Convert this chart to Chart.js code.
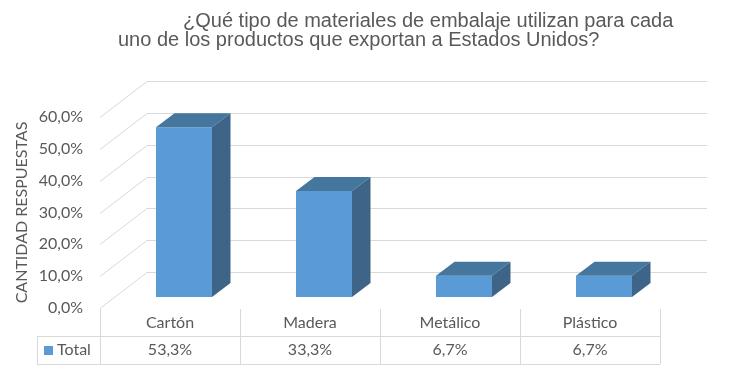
<!DOCTYPE html>
<html>
<head>
<meta charset="utf-8">
<script src="https://cdn.jsdelivr.net/npm/chart.js@4/dist/chart.umd.min.js"></script>
<style>
  html, body { margin: 0; padding: 0; background: #fff; }
  #wrap { width: 736px; height: 372px; position: relative; }
</style>
</head>
<body>
<div id="wrap"><canvas id="grafico"></canvas></div>
<script>
const titulo = ["¿Qué tipo de materiales de embalaje utilizan para cada", "uno de los productos que exportan a Estados Unidos?"];
const categorias = ["Cartón", "Madera", "Metálico", "Plástico"];
const valores = [53.3, 33.3, 6.7, 6.7];
const nombreSerie = "Total";
const tituloEje = "CANTIDAD RESPUESTAS";
const ejeMax = 60;
const ejePaso = 10;

const GRIS = "#595959";
const LINEA = "#d9d9d9";

// profundidad 3D (pared del fondo y posicion de las barras)
const FONDO_X = 47, FONDO_Y = -36;
const BARRA_X = 14, BARRA_Y = -11;
const PROF_X = 18.5, PROF_Y = -14;

function porcentaje(v) {
    return v.toFixed(1).replace(".", ",") + "%";
}

const paredes = {
    id: "paredes",
    beforeDatasetsDraw(chart) {
        const ctx = chart.ctx;
        const x = chart.scales.x, y = chart.scales.y;
        ctx.save();
        ctx.strokeStyle = LINEA;
        ctx.lineWidth = 1;
        y.ticks.forEach(t => {
            const py = Math.round(y.getPixelForValue(t.value)) + 0.5;
            ctx.beginPath();
            ctx.moveTo(x.left, py);
            ctx.lineTo(x.left + FONDO_X, py + FONDO_Y);
            ctx.lineTo(x.right + FONDO_X, py + FONDO_Y);
            ctx.stroke();
        });
        ctx.restore();
        // las caras frontales se dibujan desplazadas hacia el fondo
        ctx.save();
        ctx.translate(BARRA_X, BARRA_Y);
    },
    afterDatasetsDraw(chart) {
        const ctx = chart.ctx;
        ctx.restore();
        const meta = chart.getDatasetMeta(0);
        ctx.save();
        meta.data.forEach(bar => {
            const p = bar.getProps(["x", "y", "base", "width"], true);
            const L = p.x - p.width / 2 + BARRA_X;
            const R = p.x + p.width / 2 + BARRA_X;
            const T = p.y + BARRA_Y;
            const B = p.base + BARRA_Y;
            // cara superior
            ctx.fillStyle = "#45769e";
            ctx.beginPath();
            ctx.moveTo(L, T);
            ctx.lineTo(R, T);
            ctx.lineTo(R + PROF_X, T + PROF_Y);
            ctx.lineTo(L + PROF_X, T + PROF_Y);
            ctx.closePath();
            ctx.fill();
            // cara lateral
            ctx.fillStyle = "#3e6587";
            ctx.beginPath();
            ctx.moveTo(R, T);
            ctx.lineTo(R + PROF_X, T + PROF_Y);
            ctx.lineTo(R + PROF_X, B + PROF_Y);
            ctx.lineTo(R, B);
            ctx.closePath();
            ctx.fill();
        });
        ctx.restore();
    }
};

const tabla = {
    id: "tabla",
    afterDraw(chart) {
        const ctx = chart.ctx;
        const x = chart.scales.x;
        const ancho = (x.right - x.left) / categorias.length;
        const yTop = 309, yMid = 336, yBot = 364, xLeyenda = 37;
        ctx.save();
        ctx.strokeStyle = LINEA;
        ctx.lineWidth = 1;
        ctx.beginPath();
        for (let i = 0; i <= categorias.length; i++) {
            const px = Math.round(x.left + i * ancho) + 0.5;
            ctx.moveTo(px, yTop);
            ctx.lineTo(px, yBot);
        }
        ctx.moveTo(xLeyenda + 0.5, yMid);
        ctx.lineTo(xLeyenda + 0.5, yBot);
        ctx.moveTo(xLeyenda, yMid + 0.5);
        ctx.lineTo(x.right, yMid + 0.5);
        ctx.moveTo(xLeyenda, yBot + 0.5);
        ctx.lineTo(x.right, yBot + 0.5);
        ctx.stroke();

        ctx.fillStyle = GRIS;
        ctx.font = "16px Lato";
        ctx.textAlign = "center";
        ctx.textBaseline = "middle";
        categorias.forEach((c, i) => {
            const cx = x.getPixelForValue(i);
            ctx.fillText(c, cx, 323);
            ctx.fillText(porcentaje(valores[i]), cx, 350);
        });
        // leyenda
        ctx.fillStyle = "#5b9bd5";
        ctx.fillRect(44, 346, 9, 9);
        ctx.fillStyle = GRIS;
        ctx.textAlign = "left";
        ctx.fillText(nombreSerie, 57, 350);
        ctx.restore();
    }
};

const tituloPlugin = {
    id: "tituloPlugin",
    afterDraw(chart) {
        const ctx = chart.ctx;
        ctx.save();
        ctx.fillStyle = GRIS;
        ctx.font = "20px 'Liberation Sans', Arial, sans-serif";
        ctx.textAlign = "left";
        ctx.textBaseline = "alphabetic";
        ctx.fillText(titulo[0], 183, 27);
        ctx.fillText(titulo[1], 118, 46);
        ctx.restore();
    }
};

const ctx = document.getElementById("grafico").getContext("2d");
new Chart(ctx, {
    type: "bar",
    data: {
        labels: categorias,
        datasets: [{
            label: nombreSerie,
            data: valores,
            backgroundColor: "#5b9bd5",
            borderWidth: 0,
            categoryPercentage: 1,
            barPercentage: 0.4,
            clip: false
        }]
    },
    options: {
        responsive: true,
        maintainAspectRatio: false,
        animation: false,
        layout: { padding: { left: 0, right: 76, top: 117, bottom: 64 } },
        plugins: {
            legend: { display: false },
            tooltip: { enabled: false },
            title: { display: false }
        },
        scales: {
            x: {
                display: true,
                grid: { display: false, drawTicks: false },
                border: { display: false },
                ticks: { display: false },
                afterFit(scale) { scale.height = 0; }
            },
            y: {
                min: 0,
                max: ejeMax,
                grid: { display: false, drawTicks: false },
                border: { display: false },
                ticks: {
                    stepSize: ejePaso,
                    padding: 17,
                    color: GRIS,
                    font: { family: "Lato", size: 16 },
                    callback: v => porcentaje(v)
                },
                title: {
                    display: true,
                    text: tituloEje,
                    color: GRIS,
                    font: { family: "Lato", size: 16 },
                    padding: { top: 12, bottom: 0 }
                },
                afterFit(scale) { scale.width = 100; }
            }
        }
    },
    plugins: [paredes, tabla, tituloPlugin]
});
</script>
</body>
</html>
